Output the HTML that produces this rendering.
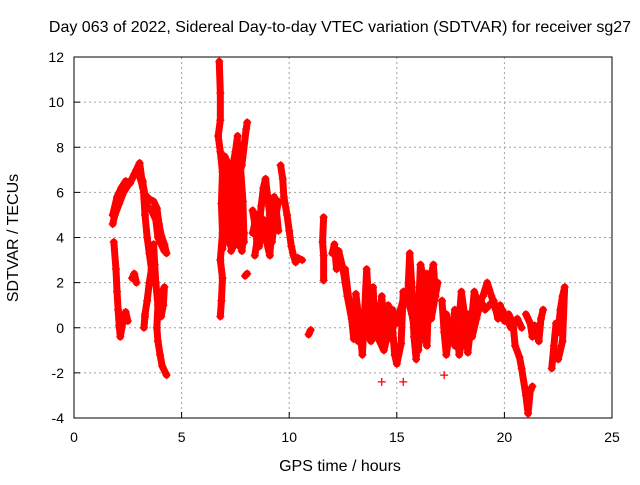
<!DOCTYPE html>
<html><head><meta charset="utf-8"><style>
body{margin:0;background:#fff}
svg text{font-family:"Liberation Sans",sans-serif;fill:#000}
</style></head><body>
<svg id="chart" width="640" height="480" xmlns="http://www.w3.org/2000/svg">
<text x="340" y="32" font-size="16" text-anchor="middle">Day 063 of 2022, Sidereal Day-to-day VTEC variation (SDTVAR) for receiver sg27</text>
<text x="340" y="471" font-size="16" text-anchor="middle">GPS time / hours</text>
<text transform="translate(18,238) rotate(-90)" font-size="16" text-anchor="middle">SDTVAR / TECUs</text>
<g id="grid"></g>
<g id="axes"></g>
<g id="marks"></g>
</svg>
<script>
const xTicks=[0,5,10,15,20,25];
const yTicks=[-4,-2,0,2,4,6,8,10,12];
// tracks of [hour, SDTVAR]
const track1=[[1.8,4.6],[1.9,5.0],[2.1,5.5],[2.3,6.0],[2.5,6.3],[2.7,6.6],[2.9,7.0],[3.05,7.3],[3.15,6.6],[3.3,5.9],[3.5,5.7],[3.7,5.6],[3.85,5.3],[3.95,4.6],[4.05,4.1],[4.2,3.7],[4.3,3.3]];
const track1b=[[1.8,5.0],[2.0,5.8],[2.2,6.2],[2.4,6.5],[2.6,6.4],[2.8,6.8],[3.0,6.9],[3.2,6.2],[3.4,5.4],[3.6,5.2],[3.8,4.8],[3.9,4.0],[4.0,3.8],[4.2,3.4]];
const track2=[[1.85,3.8],[1.95,2.6],[2.0,1.6],[2.05,0.8],[2.1,0.1],[2.15,-0.4],[2.3,0.4],[2.4,0.7],[2.5,0.3]];
const track3=[[2.7,2.2],[2.8,2.4],[2.9,2.0]];
const track4=[[3.2,6.5],[3.3,5.0],[3.4,4.0],[3.5,3.3],[3.6,2.6],[3.5,2.0],[3.4,1.2],[3.3,0.6],[3.25,0.0],[3.3,0.5]];
const track5=[[3.7,3.7],[3.75,2.8],[3.8,2.0],[3.9,1.0],[3.85,0.0],[3.9,-0.6],[4.0,-1.2],[4.1,-1.7],[4.3,-2.1]];
const track6=[[4.1,1.6],[4.2,1.8],[4.15,1.0],[4.05,0.5]];
const track7=[[6.75,11.8],[6.8,10.4],[6.8,9.2],[6.7,8.5],[6.8,7.8],[6.9,6.9],[6.85,5.5],[6.9,4.2],[6.8,3.0],[6.9,2.2],[6.85,1.2],[6.8,0.5]];
const track8=[[6.95,7.4],[7.1,6.8],[7.0,5.8],[7.2,5.0],[7.1,4.0],[7.3,3.6],[7.2,4.6],[7.4,5.6],[7.3,6.8],[7.5,7.8],[7.6,8.5],[7.5,7.0],[7.6,6.0],[7.5,4.8],[7.7,4.0],[7.8,3.4],[7.9,4.2],[7.7,5.4],[7.6,6.6],[7.8,7.2],[8.0,8.8],[8.05,9.1]];
const track8b=[[6.9,3.5],[7.0,4.5],[7.1,6.2],[7.0,7.6],[7.2,7.2],[7.3,5.8],[7.4,4.4],[7.3,3.4],[7.5,3.8],[7.6,4.6],[7.7,3.6],[7.8,4.4],[7.9,3.8],[7.85,5.6],[7.7,7.6],[7.9,8.2]];
const track9=[[7.95,2.3],[8.05,2.4]];
const track10=[[8.3,5.2],[8.4,4.6],[8.5,3.8],[8.4,3.2],[8.6,4.4],[8.7,5.4],[8.8,6.2],[8.9,6.6],[9.0,5.8],[9.1,5.0],[8.95,3.8],[9.1,3.2],[9.2,4.6],[9.3,5.8],[9.4,5.2],[9.5,4.3]];
const track10b=[[8.3,4.2],[8.5,5.0],[8.6,3.6],[8.8,4.8],[9.0,4.4],[9.2,3.8],[9.3,4.6],[9.5,5.6]];
const track11=[[9.6,7.2],[9.7,6.6],[9.75,5.8],[9.9,5.0],[10.0,4.3],[10.1,3.6],[10.2,3.2],[10.3,2.9],[10.4,3.1],[10.6,3.0]];
const track12=[[11.6,4.9],[11.55,3.8],[11.6,3.2],[11.6,2.1]];
const track13=[[10.9,-0.3],[11.0,-0.1]];
const track14=[[12.0,3.3],[12.1,3.7],[12.2,2.6],[12.3,3.4],[12.5,2.6],[12.6,2.0],[12.7,1.4],[12.9,0.4],[13.0,-0.5],[13.1,1.5],[13.3,-0.2],[13.4,-1.2],[13.5,0.6],[13.6,2.6],[13.7,1.0],[13.8,-0.6],[13.9,1.8],[14.0,-0.4],[14.2,0.5],[14.3,1.4],[14.4,0.2],[14.5,-0.6],[14.6,1.0],[14.8,0.0],[14.9,-1.2],[15.0,-1.6],[15.2,-0.7],[15.3,1.6],[15.5,1.2],[15.6,3.3],[15.7,1.8],[15.8,-0.4],[15.9,-1.4],[16.0,0.6],[16.1,2.8],[16.3,2.0],[16.2,0.0],[16.4,-0.8],[16.5,1.8],[16.7,2.8],[16.8,1.4]];
const track14b=[[12.6,2.6],[12.8,1.0],[13.0,0.6],[13.2,-0.6],[13.4,0.2],[13.6,-0.4],[13.8,0.6],[14.0,1.0],[14.2,-0.6],[14.4,-1.0],[14.6,-0.2],[14.8,0.8],[15.0,0.2],[15.4,1.6],[15.7,0.6],[16.0,-1.0],[16.2,1.2],[16.4,2.4],[16.6,0.4],[16.9,2.0]];
const track15=[[17.1,1.2],[17.2,-0.2],[17.3,-1.2],[17.5,0.2],[17.7,-0.8],[17.9,0.4],[18.0,1.6],[18.2,0.2],[18.3,-1.1],[18.5,0.6],[18.6,1.6],[18.8,1.0],[19.0,1.4],[19.2,2.0],[19.4,1.4],[19.6,0.8],[19.8,1.0],[20.0,0.3],[20.2,0.6],[20.4,0.2],[20.5,-0.8],[20.7,-1.3],[20.8,-1.8],[21.0,-3.0],[21.1,-3.8],[21.2,-2.8],[21.3,-2.6]];
const track15b=[[17.3,0.6],[17.5,-0.6],[17.7,0.8],[17.9,-1.2],[18.1,-0.2],[18.3,0.6],[18.5,-0.4],[18.7,0.4],[18.9,1.2],[19.1,0.8],[19.3,1.0],[19.5,1.2],[19.7,0.4],[19.9,0.8],[20.1,0.4],[20.3,0.0],[20.6,0.4],[20.8,0.0]];
const track16=[[21.0,0.6],[21.2,0.2],[21.3,-0.4],[21.4,0.1],[21.6,-0.6],[21.7,0.4],[21.8,0.8]];
const track17=[[22.2,-1.8],[22.3,-0.8],[22.4,0.2],[22.5,-0.2],[22.6,0.8],[22.7,1.4],[22.8,1.8],[22.7,-0.6],[22.5,-1.4]];
const track18=[[15.3,-2.4],[14.3,-2.4],[17.2,-2.1],[16.0,0.6]];
const tracks=[track1,track1b,track2,track3,track4,track5,track6,track7,track8,track8b,track9,track10,track10b,track11,track12,track13,track14,track14b,track15,track15b,track16,track17,track18];

const X0=74,X1=612,Y0=418,Y1=57;
const xs=v=>X0+(v-0)/(25-0)*(X1-X0);
const ys=v=>Y0-(v-(-4))/(12-(-4))*(Y0-Y1);
const NS="http://www.w3.org/2000/svg";
function mk(t,a,p){const e=document.createElementNS(NS,t);for(const k in a)e.setAttribute(k,a[k]);p.appendChild(e);return e;}
const grid=document.getElementById('grid'),axes=document.getElementById('axes'),marks=document.getElementById('marks');
xTicks.forEach(t=>{
  if(t>0&&t<25){const g=mk('line',{x1:xs(t),x2:xs(t),y1:Y1,y2:Y0,stroke:'#a0a0a0','stroke-dasharray':'2,3'},grid);
  
  }
  const k=mk('line',{x1:xs(t),x2:xs(t),y1:Y0,y2:Y0-6,stroke:'#000'},axes);
  
  
  const l=mk('text',{x:xs(t),y:Y0+24,'font-size':'14','text-anchor':'middle'},axes);l.textContent=t;
  
  
});
yTicks.forEach(t=>{
  if(t>-4&&t<12){const g=mk('line',{x1:X0,x2:X1,y1:ys(t),y2:ys(t),stroke:'#a0a0a0','stroke-dasharray':'2,3'},grid);
  
  }
  const k=mk('line',{x1:X0,x2:X0+6,y1:ys(t),y2:ys(t),stroke:'#000'},axes);
  
  
  const l=mk('text',{x:X0-10,y:ys(t)+5,'font-size':'14','text-anchor':'end'},axes);l.textContent=t;
  
  
});
const fr=mk('rect',{x:X0,y:Y1,width:X1-X0,height:Y0-Y1,fill:'none',stroke:'#000'},axes);


tracks.forEach((tr,i)=>{
  if(tr!==track18){const pl=mk('polyline',{points:tr.map(p=>xs(p[0])+','+ys(p[1])).join(' '),fill:'none',stroke:'#f00','stroke-width':7,'stroke-linejoin':'round','stroke-linecap':'round'},marks);
  
  }
  tr.forEach(p=>{
    const x=xs(p[0]),y=ys(p[1]);
    const m=mk('path',{d:`M${x-4},${y}H${x+4}M${x},${y-4}V${y+4}`,stroke:'#f00','stroke-width':1.3},marks);
    
    
  });
});
</script>
</body></html>
